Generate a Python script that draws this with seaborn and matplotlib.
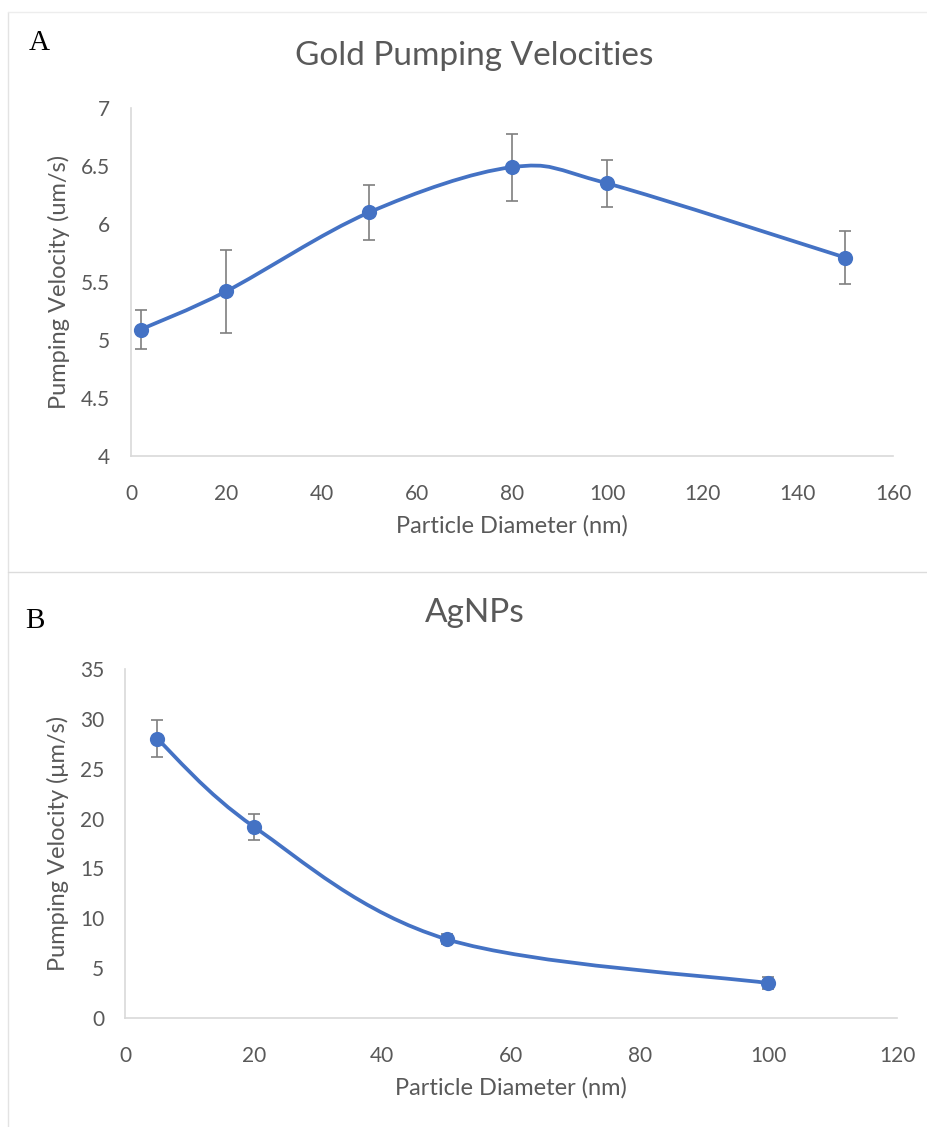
import numpy as np
import pandas as pd
import matplotlib
matplotlib.use("Agg")
import matplotlib.pyplot as plt
import seaborn as sns
from matplotlib.path import Path
from matplotlib.patches import PathPatch
from matplotlib.lines import Line2D

# ---- data ----
gold_diam = [2, 20, 50, 80, 100, 150]
gold_vel = [5.09, 5.42, 6.10, 6.49, 6.35, 5.71]
gold_err = [0.17, 0.36, 0.24, 0.29, 0.20, 0.23]

ag_diam = [5, 20, 50, 100]
ag_vel = [28.0, 19.2, 7.9, 3.5]
ag_err = [1.85, 1.3, 0.5, 0.6]

gold_xticks = [0, 20, 40, 60, 80, 100, 120, 140, 160]
gold_yticks = [4, 4.5, 5, 5.5, 6, 6.5, 7]
ag_xticks = [0, 20, 40, 60, 80, 100, 120]
ag_yticks = [0, 5, 10, 15, 20, 25, 30, 35]

BLUE = "#4472C4"
TXT = "#595959"
GRID = "#d9d9d9"
ERR = "#7f7f7f"

sns.set_theme(style="white")
plt.rcParams["font.family"] = ["Lato", "DejaVu Sans"]

fig = plt.figure(figsize=(9.27, 11.27), dpi=100)


def smooth_path(xs, ys):
    pts = np.column_stack([xs, ys]).astype(float)
    n = len(pts)
    verts = [pts[0]]
    codes = [Path.MOVETO]
    for i in range(n - 1):
        p0 = pts[i - 1] if i > 0 else pts[i]
        p1 = pts[i]
        p2 = pts[i + 1]
        p3 = pts[i + 2] if i + 2 < n else pts[i + 1]
        c1 = p1 + (p2 - p0) / 6.0
        c2 = p2 - (p3 - p1) / 6.0
        verts += [c1, c2, p2]
        codes += [Path.CURVE4] * 3
    return Path(verts, codes)


def panel(rect, xs, ys, es, xticks, yticks, title, ylabel, letter, letter_pos, title_y):
    ax = fig.add_axes(rect)
    df = pd.DataFrame({"x": xs, "y": ys})
    ax.errorbar(xs, ys, yerr=es, fmt="none", ecolor=ERR, elinewidth=1.2,
                capsize=4.5, capthick=1.2, zorder=2)
    ax.add_patch(PathPatch(smooth_path(xs, ys), facecolor="none", edgecolor=BLUE,
                           lw=2.7, zorder=3, capstyle="round"))
    sns.scatterplot(data=df, x="x", y="y", ax=ax, color=BLUE, s=120,
                    edgecolor=BLUE, linewidth=0, zorder=4)
    ax.set_xlim(xticks[0], xticks[-1])
    ax.set_ylim(yticks[0], yticks[-1])
    ax.set_xticks(xticks)
    ax.set_yticks(yticks)
    ax.set_xticklabels([f"{t:g}" for t in xticks])
    ax.set_yticklabels([f"{t:g}" for t in yticks])
    ax.tick_params(axis="both", length=0, labelsize=15, labelcolor=TXT)
    ax.tick_params(axis="y", pad=15)
    ax.tick_params(axis="x", pad=20)
    for s in ["top", "right"]:
        ax.spines[s].set_visible(False)
    for s in ["left", "bottom"]:
        ax.spines[s].set_color(GRID)
        ax.spines[s].set_linewidth(1.2)
    ax.set_xlabel("Particle Diameter (nm)", fontsize=17, color=TXT, labelpad=8)
    ax.set_ylabel(ylabel, fontsize=17, color=TXT, labelpad=8)
    ax.grid(False)
    fig.text(0.512, title_y, title, ha="center", va="center", fontsize=24, color=TXT)
    fig.text(letter_pos[0], letter_pos[1], letter, ha="left", va="center",
             fontsize=21, color="black", family="Liberation Serif")
    return ax


panel([131 / 927, 1 - 456 / 1127, 762 / 927, 348 / 1127],
      gold_diam, gold_vel, gold_err, gold_xticks, gold_yticks,
      "Gold Pumping Velocities", "Pumping Velocity (um/s)", "A",
      (29 / 927, 1 - 43 / 1127), 1 - 56 / 1127)

panel([125 / 927, 1 - 1018 / 1127, 772 / 927, 349 / 1127],
      ag_diam, ag_vel, ag_err, ag_xticks, ag_yticks,
      "AgNPs", "Pumping Velocity (\u03bcm/s)", "B",
      (25 / 927, 1 - 621 / 1127), 1 - 613 / 1127)

# panel frames
fig.add_artist(Line2D([8 / 927, 8 / 927], [0, 1 - 12 / 1127], color="#e3e3e3", lw=1))
fig.add_artist(Line2D([8 / 927, 1], [1 - 12 / 1127, 1 - 12 / 1127], color="#ededed", lw=1))
fig.add_artist(Line2D([8 / 927, 1], [1 - 572 / 1127, 1 - 572 / 1127], color="#dcdcdc", lw=1))

fig.savefig("out.png", dpi=100, facecolor="white")
